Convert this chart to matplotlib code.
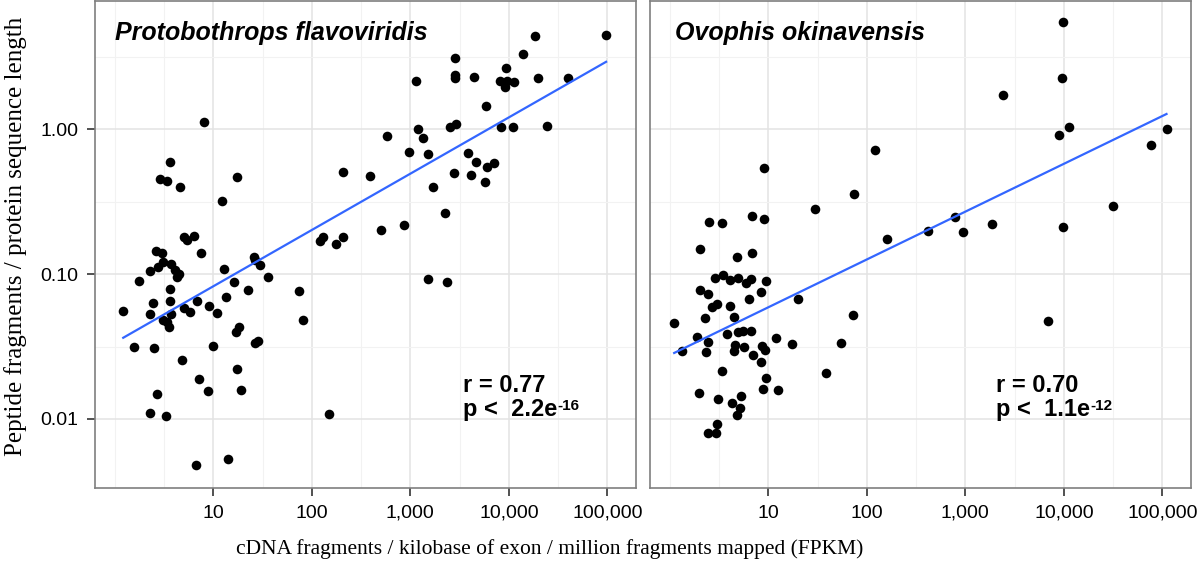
import numpy as np
import matplotlib
matplotlib.use("Agg")
import matplotlib.pyplot as plt
from matplotlib.ticker import FixedLocator, FixedFormatter, NullFormatter

# Protobothrops flavoviridis
pf_fpkm = [8.1, 3.66, 2.90, 3.39, 4.55, 17.4, 12.4, 206, 4.99, 5.41, 6.37, 2.62, 2.99, 7.55,
           120, 129, 175, 208, 97000, 18500, 13900, 2820, 9440, 2860, 2860, 4430, 1140, 8200,
           9600, 11400, 9150, 19800, 40200, 5910, 1190, 1355, 2550, 2910, 8390, 10900, 24600,
           574, 970, 1510, 3880, 4650, 6010, 7120, 393, 2800, 4100, 5770, 1680, 2265, 499, 863,
           1524, 2360, 1.78, 2.28, 2.78, 3.08, 3.75, 4.11, 4.28, 4.46, 3.66, 12.9, 25.7, 26.8,
           30.0, 16.1, 35.6, 22.3, 73.5, 80.7, 1.22, 2.42, 2.27, 3.67, 3.75, 3.12, 3.41, 3.59,
           5.05, 5.80, 6.88, 9.10, 11.0, 13.5, 17.0, 18.4, 26.8, 28.2, 1.57, 2.50, 10.0, 4.81,
           17.3, 7.16, 8.75, 19.1, 2.66, 2.29, 3.33, 150, 6.76, 14.2]
pf_ratio = [1.12, 0.59, 0.454, 0.442, 0.398, 0.469, 0.321, 0.511, 0.181, 0.173, 0.183, 0.145,
            0.141, 0.141, 0.169, 0.180, 0.162, 0.181, 4.50, 4.41, 3.30, 3.12, 2.64, 2.37, 2.27,
            2.31, 2.17, 2.16, 2.16, 2.13, 1.95, 2.27, 2.27, 1.45, 1.00, 0.871, 1.03, 1.08, 1.04,
            1.04, 1.05, 0.895, 0.697, 0.678, 0.683, 0.597, 0.547, 0.588, 0.474, 0.502, 0.486,
            0.435, 0.400, 0.263, 0.201, 0.217, 0.092, 0.0882, 0.0903, 0.1047, 0.1125, 0.122,
            0.117, 0.1067, 0.096, 0.0994, 0.0789, 0.108, 0.131, 0.126, 0.116, 0.0886, 0.0955,
            0.0777, 0.0764, 0.048, 0.0556, 0.0629, 0.0534, 0.0647, 0.0533, 0.0484, 0.0467,
            0.0432, 0.0582, 0.0545, 0.0652, 0.0602, 0.0540, 0.0698, 0.0396, 0.0429, 0.0333,
            0.0347, 0.0314, 0.0309, 0.0319, 0.0254, 0.0220, 0.0188, 0.0157, 0.0158, 0.0149,
            0.0110, 0.0105, 0.0108, 0.00478, 0.00531]

# Ovophis okinavensis
oo_fpkm = [121, 9.04, 73.4, 30.0, 2.52, 3.41, 6.89, 8.98, 161, 2.03, 4.85, 6.89, 9900, 9600,
           2420, 11200, 8870, 110000, 77300, 31300, 9900, 1860, 783, 937, 414, 6870, 2.88, 3.50,
           4.09, 4.88, 5.94, 6.68, 9.59, 2.03, 2.42, 8.44, 6.32, 20.1, 2.70, 3.00, 4.12, 2.27,
           4.54, 1.11, 72.8, 1.91, 3.81, 4.90, 5.60, 6.68, 12.0, 2.43, 1.33, 2.31, 4.59, 4.52,
           5.65, 8.57, 9.31, 17.4, 55.0, 6.95, 8.47, 3.37, 38.2, 9.59, 8.88, 12.7, 1.96, 3.11,
           4.24, 5.28, 5.20, 4.79, 2.99, 2.43, 2.96]
oo_ratio = [0.716, 0.538, 0.356, 0.283, 0.229, 0.224, 0.253, 0.239, 0.174, 0.150, 0.132, 0.141,
            5.51, 2.27, 1.72, 1.03, 0.913, 1.00, 0.775, 0.295, 0.211, 0.222, 0.248, 0.194,
            0.1995, 0.0475, 0.0935, 0.0981, 0.0911, 0.0935, 0.0875, 0.0932, 0.090, 0.0777,
            0.0729, 0.0752, 0.0671, 0.0676, 0.0596, 0.0622, 0.0604, 0.050, 0.0508, 0.0457,
            0.0519, 0.0367, 0.0385, 0.040, 0.0403, 0.0406, 0.0364, 0.0341, 0.0294, 0.0291,
            0.0325, 0.0296, 0.0315, 0.0317, 0.0301, 0.0331, 0.0334, 0.0275, 0.0249, 0.0215,
            0.0207, 0.0191, 0.0162, 0.0158, 0.0150, 0.0138, 0.0129, 0.0143, 0.0119, 0.0107,
            0.00922, 0.00796, 0.00796]

species = ["Protobothrops flavoviridis", "Ovophis okinavensis"]
r_text = ["r = 0.77", "r = 0.70"]
p_text = ["p <  2.2e", "p <  1.1e"]
p_exp = ["-16", "-12"]

x_ticks = [10, 100, 1000, 10000, 100000]
x_labels = ["10", "100", "1,000", "10,000", "100,000"]
y_ticks = [0.01, 0.1, 1]
y_labels = ["0.01", "0.10", "1.00"]

sans = ["Liberation Sans", "DejaVu Sans"]
serif = ["Liberation Serif", "DejaVu Serif"]

fig = plt.figure(figsize=(12, 5.71), dpi=100)
ax1 = fig.add_axes([95 / 1200, 83 / 571, 541 / 1200, 487 / 571])
ax2 = fig.add_axes([650 / 1200, 83 / 571, 541 / 1200, 487 / 571], sharey=ax1)

panels = [(ax1, pf_fpkm, pf_ratio), (ax2, oo_fpkm, oo_ratio)]
title_x = [0.037, 0.046]
note_x = [0.680, 0.639]

for i, (ax, fx, fy) in enumerate(panels):
    ax.set_xscale("log")
    ax.set_yscale("log")
    ax.set_xlim(10 ** -0.2, 10 ** 5.29)
    ax.set_ylim(10 ** -2.477, 10 ** 0.886)

    # grid: minor at half decades, major at decades
    ax.xaxis.set_major_locator(FixedLocator(x_ticks))
    ax.xaxis.set_major_formatter(FixedFormatter(x_labels))
    ax.xaxis.set_minor_locator(FixedLocator([10 ** k for k in [0, 0.5, 1.5, 2.5, 3.5, 4.5]]))
    ax.xaxis.set_minor_formatter(NullFormatter())
    ax.yaxis.set_major_locator(FixedLocator(y_ticks))
    ax.yaxis.set_major_formatter(FixedFormatter(y_labels))
    ax.yaxis.set_minor_locator(FixedLocator([10 ** k for k in [0.5, -0.5, -1.5, -2.5]]))
    ax.yaxis.set_minor_formatter(NullFormatter())
    ax.grid(which="major", color="#e3e3e3", linewidth=1.1)
    ax.grid(which="minor", color="#f2f2f2", linewidth=0.8)
    ax.set_axisbelow(True)
    ax.tick_params(which="minor", length=0)
    ax.tick_params(which="major", length=6, width=1.2, color="#333333", pad=6,
                   labelsize=14, labelcolor="black")
    for lab in ax.get_xticklabels() + ax.get_yticklabels():
        lab.set_family(sans)
    for s in ax.spines.values():
        s.set_color("#7f7f7f")
        s.set_linewidth(1.2)

    ax.scatter(fx, fy, s=48, color="black", linewidths=0, zorder=3)

    # linear fit in log-log space
    lx = np.log10(fx)
    ly = np.log10(fy)
    slope, icpt = np.polyfit(lx, ly, 1)
    xs = np.linspace(lx.min(), lx.max(), 50)
    ax.plot(10 ** xs, 10 ** (icpt + slope * xs), color="#3366ff", linewidth=1.6, zorder=4)

    ax.text(title_x[i], 0.92, species[i], transform=ax.transAxes, fontsize=18,
            fontweight="bold", fontstyle="italic", family=sans, va="baseline")
    ax.text(note_x[i], 0.198, r_text[i], transform=ax.transAxes, fontsize=17,
            fontweight="bold", family=sans, va="baseline")
    pt = ax.text(note_x[i], 0.148, p_text[i], transform=ax.transAxes, fontsize=17,
                 fontweight="bold", family=sans, va="baseline")
    ax.annotate(p_exp[i], xy=(1, 1), xycoords=pt, xytext=(0.5, -1), textcoords="offset points",
                fontsize=11, fontweight="bold", family=sans, va="top", ha="left")

ax2.tick_params(axis="y", which="both", left=False, labelleft=False)

fig.text(550 / 1200, 1 - 549 / 571, "cDNA fragments / kilobase of exon / million fragments mapped (FPKM)",
         ha="center", va="center", fontsize=15.5, family=serif)
fig.text(16 / 1200, 1 - 236 / 571, "Peptide fragments / protein sequence length",
         ha="center", va="center", rotation=90, fontsize=18, family=serif)

fig.savefig("out.png", dpi=100)
